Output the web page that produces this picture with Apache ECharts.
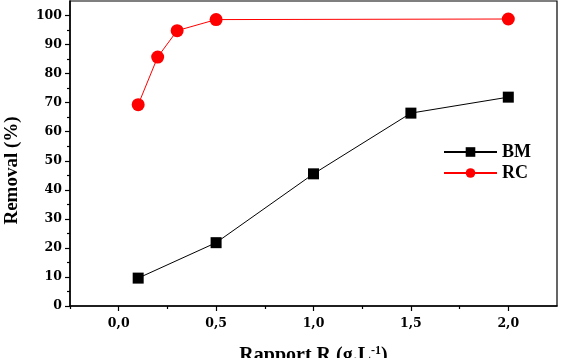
<!DOCTYPE html>
<html><head><meta charset="utf-8">
<script src="https://cdn.jsdelivr.net/npm/echarts@6/dist/echarts.min.js"></script>
<style>html,body{margin:0;padding:0;background:#fff}#c{width:568px;height:358px}</style>
</head><body><div id="c"></div>
<script>
const xBM = [0.1, 0.5, 1.0, 1.5, 2.0];
const yBM = [9.6, 21.8, 45.5, 66.4, 71.9];
const xRC = [0.1, 0.2, 0.3, 0.5, 2.0];
const yRC = [69.3, 85.7, 94.8, 98.6, 98.8];
const xTicks = [0, 0.5, 1.0, 1.5, 2.0];
const xMinorTicks = [-0.25, 0.25, 0.75, 1.25, 1.75];
const yTicks = [0, 10, 20, 30, 40, 50, 60, 70, 80, 90, 100];
const yMinorTicks = [5, 15, 25, 35, 45, 55, 65, 75, 85, 95];

const serif = '"Liberation Serif", "Times New Roman", serif';
const tickFont = { fontFamily: '"DejaVu Serif", serif', fontWeight: 'bold', fontSize: 12.5, color: '#000' };
const chart = echarts.init(document.getElementById('c'), null, { renderer: 'canvas' });
const axisLine = { show: true, onZero: false, lineStyle: { color: '#000', width: 1.5 } };
chart.setOption({
  animation: false,
  backgroundColor: '#fff',
  grid: { left: 70, right: 11, top: 1, bottom: 52, containLabel: false, outerBoundsMode: 'none',
    show: true, borderColor: '#000', borderWidth: 1.2, backgroundColor: 'transparent' },
  legend: {
    orient: 'vertical', left: 438, top: 138, itemWidth: 53, itemHeight: 12, itemGap: 3,
    textStyle: { fontFamily: serif, fontWeight: 'bold', fontSize: 18, color: '#000' },
    data: ['BM', 'RC']
  },
  xAxis: [{
    type: 'value', min: -0.25, max: 2.25, position: 'bottom',
    axisLine: axisLine,
    axisTick: { show: true, inside: false, length: 5, lineStyle: { color: '#000', width: 1.2 }, customValues: xTicks },
    axisLabel: { ...tickFont, margin: 11, customValues: xTicks, formatter: v => v.toFixed(1).replace('.', ',') },
    splitLine: { show: false },
    name: 'Rapport R (g.L{sup|-1})', nameLocation: 'middle', nameGap: 39,
    nameTextStyle: { fontFamily: serif, fontWeight: 'bold', fontSize: 20, color: '#000',
      rich: { sup: { fontFamily: serif, fontWeight: 'bold', fontSize: 12, color: '#000', verticalAlign: 'top', padding: [0, 0, 9, 0] } } }
  }, {
    type: 'value', min: -0.25, max: 2.25, position: 'bottom',
    axisLine: { show: false, onZero: false },
    axisTick: { show: true, inside: false, length: 3, lineStyle: { color: '#000', width: 1.2 }, customValues: xMinorTicks },
    axisLabel: { show: false }, splitLine: { show: false }
  }],
  yAxis: [{
    type: 'value', min: 0, max: 105, position: 'left',
    axisLine: axisLine,
    axisTick: { show: true, inside: false, length: 5, lineStyle: { color: '#000', width: 1.2 }, customValues: yTicks },
    axisLabel: { ...tickFont, margin: 8, customValues: yTicks },
    splitLine: { show: false },
    name: 'Removal (%)', nameLocation: 'middle', nameGap: 48,
    nameTextStyle: { fontFamily: serif, fontWeight: 'bold', fontSize: 19, color: '#000', padding: [0, 34, 0, 0] }
  }, {
    type: 'value', min: 0, max: 105, position: 'left',
    axisLine: { show: false, onZero: false },
    axisTick: { show: true, inside: false, length: 3, lineStyle: { color: '#000', width: 1.2 }, customValues: yMinorTicks },
    axisLabel: { show: false }, splitLine: { show: false }
  }],
  series: [{
    name: 'BM', type: 'line', xAxisIndex: 0, yAxisIndex: 0,
    data: xBM.map((x, i) => [x, yBM[i]]),
    symbol: 'rect', symbolSize: 11,
    lineStyle: { color: '#000', width: 1 }, itemStyle: { color: '#000' }
  }, {
    name: 'RC', type: 'line', xAxisIndex: 0, yAxisIndex: 0,
    data: xRC.map((x, i) => [x, yRC[i]]),
    symbol: 'circle', symbolSize: 13,
    lineStyle: { color: '#ff0000', width: 1 }, itemStyle: { color: '#ff0000' }
  }]
});
</script></body></html>
